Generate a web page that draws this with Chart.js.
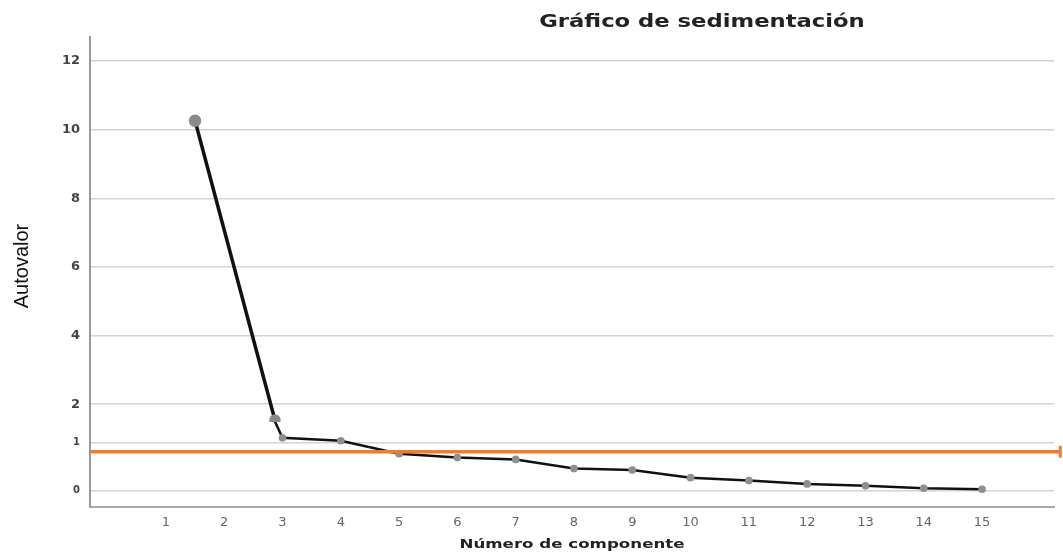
<!DOCTYPE html>
<html>
<head>
<meta charset="utf-8">
<script src="https://cdn.jsdelivr.net/npm/chart.js@4.4.0/dist/chart.umd.min.js"></script>
<style>
    html, body { margin: 0; background: #fff; }
    #wrap { width: 1063px; height: 552px; }
</style>
</head>
<body>
<div id="wrap"><canvas id="scree"></canvas></div>
<script>
// values
const componentTicks = [1, 2, 3, 4, 5, 6, 7, 8, 9, 10, 11, 12, 13, 14, 15];
const upperTicks = [2, 4, 6, 8, 10, 12];
const lowerTicks = [0, 1];

// steep part, drawn against the upper (0-12) scale
const headX = [1.5, 2.87];
const headY = [10.26, 1.54];

// flat part, drawn against the lower (0-1) scale
const tailX = [2.87, 3, 4, 5, 6, 7, 8, 9, 10, 11, 12, 13, 14, 15];
const tailY = [1.44, 1.10, 1.04, 0.77, 0.69, 0.65, 0.46, 0.43, 0.27, 0.21, 0.14, 0.10, 0.05, 0.03];

const cutoffX = [-0.3, 16.34];
const cutoffY = [0.81, 0.81];

const toPoints = (xs, ys) => xs.map((x, i) => ({ x, y: ys[i] }));

// the source picture is stretched sideways, so the titles are drawn wide too
function wideText(ctx, text, x, y, font, stretch) {
    ctx.save();
    ctx.font = font;
    ctx.scale(stretch, 1);
    ctx.fillText(text, x / stretch, y);
    ctx.restore();
}

const titles = {
    id: 'titles',
    afterDraw(chart) {
        const { ctx, chartArea } = chart;
        ctx.save();
        ctx.fillStyle = '#222';
        ctx.textAlign = 'center';
        ctx.textBaseline = 'middle';
        wideText(ctx, 'Gráfico de sedimentación', 702, 22, 'bold 18px "DejaVu Sans"', 1.26);
        wideText(ctx, 'Número de componente', (chartArea.left + chartArea.right) / 2, 545,
            'bold 13px "DejaVu Sans"', 1.28);
        ctx.translate(22, 266);
        ctx.rotate(-Math.PI / 2);
        ctx.fillStyle = '#111';
        ctx.font = '20px "Liberation Sans"';
        ctx.fillText('Autovalor', 0, 0);
        ctx.restore();
    },
};

const fixTicks = (list) => (scale) => { scale.ticks = list.map((value) => ({ value })); };

const yBase = {
    type: 'linear',
    stack: 'eigen',
    border: { color: '#9a9a9a', width: 2 },
    grid: { color: '#d4d4d4', lineWidth: 1.5, drawTicks: false },
    afterFit: (s) => { s.width = 90; },
};

new Chart(document.getElementById('scree'), {
    type: 'line',
    data: {
        datasets: [
            {
                data: toPoints(cutoffX, cutoffY),
                yAxisID: 'yLow',
                borderColor: '#ed7d31',
                borderWidth: 3.5,
                pointStyle: 'line',
                rotation: 90,
                pointRadius: [0, 6],
                pointBorderColor: '#ed7d31',
                pointBorderWidth: 3,
                clip: 12,
                order: 0,
            },
            {
                data: toPoints(headX, headY),
                yAxisID: 'yTop',
                borderColor: '#111',
                borderWidth: 3.5,
                pointRadius: [4.5, 4],
                pointBackgroundColor: '#8a8a8a',
                pointBorderColor: '#8a8a8a',
                order: 1,
            },
            {
                data: toPoints(tailX, tailY),
                yAxisID: 'yLow',
                borderColor: '#111',
                borderWidth: 2.5,
                pointRadius: tailX.map((_, i) => (i === 0 ? 0 : 2.6)),
                pointBackgroundColor: '#8f8f8f',
                pointBorderColor: '#8f8f8f',
                order: 1,
            },
        ],
    },
    options: {
        responsive: true,
        maintainAspectRatio: false,
        animation: false,
        layout: { padding: { top: 37, right: 8, left: 0, bottom: 0 } },
        plugins: { legend: { display: false }, tooltip: { enabled: false } },
        scales: {
            x: {
                type: 'linear',
                min: -0.302,
                max: 16.234,
                afterBuildTicks: fixTicks(componentTicks),
                grid: { display: false, drawTicks: false },
                border: { color: '#a8a8a8', width: 2 },
                ticks: { color: '#666', padding: 8, font: { family: 'DejaVu Sans', size: 13 } },
                afterFit: (s) => { s.height = 45; },
            },
            yLow: {
                ...yBase,
                stackWeight: 85,
                min: -0.34,
                max: 1.43,
                afterBuildTicks: fixTicks(lowerTicks),
                ticks: { color: '#444', padding: 10, font: { family: 'DejaVu Sans', size: 10, weight: 'bold' } },
            },
            yTop: {
                ...yBase,
                stackWeight: 385,
                min: 1.48,
                max: 12.7,
                afterBuildTicks: fixTicks(upperTicks),
                ticks: { color: '#444', padding: 10, font: { family: 'DejaVu Sans', size: 13, weight: 'bold' } },
            },
        },
    },
    plugins: [titles],
});
</script>
</body>
</html>
